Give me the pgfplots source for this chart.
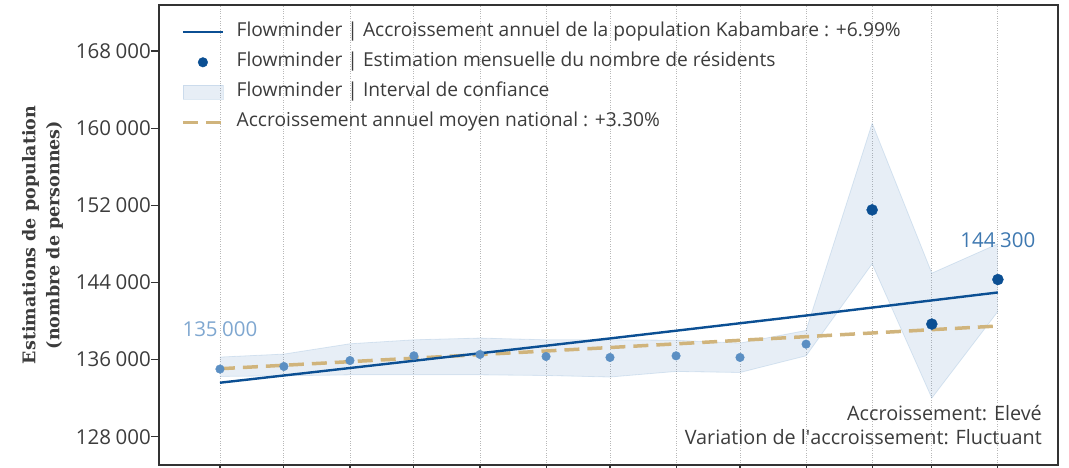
\documentclass[border=0pt]{standalone}
\usepackage{fontspec}
\setmainfont{Open Sans}
\newfontfamily\labelfont{DejaVu Serif}
\usepackage{pgfplots}
\usepackage{pgfplotstable}
\pgfplotsset{compat=1.18}
\usepgfplotslibrary{fillbetween}
\definecolor{darkblue}{HTML}{0B4F93}
\definecolor{lightpt}{HTML}{5B8FC3}
\definecolor{bandbase}{HTML}{5B8FC3}
\definecolor{tanc}{HTML}{D0B47C}
\definecolor{gridgray}{HTML}{B8B8B8}
\definecolor{axisgray}{HTML}{333333}
\definecolor{textgray}{HTML}{3C3C3C}
\definecolor{lbllight}{HTML}{7FA7D0}
\definecolor{lbldark}{HTML}{3E78B0}
\newcommand{\ts}{\hspace{0.22em}}
\newcommand{\fs}{\fontsize{19.2}{22}\selectfont}
\newcommand{\ft}{\fontsize{20.5}{22}\selectfont}
\newcommand{\fa}{\fontsize{19.8}{22}\selectfont}

\pgfplotstableread{
x y up lo
0 135016 136260 134250
30 135285 136570 134320
61 135900 137640 134420
91 136390 138050 134420
122 136530 138230 134420
153 136320 138050 134350
183 136220 138050 134190
214 136390 138000 134770
244 136220 137710 134660
275 137600 139020 136390
306 151520 160500 145930
334 139680 144960 132010
365 144300 148000 140990
}\band

\pgfplotstableread{
x y
0 135016
30 135285
61 135900
91 136390
122 136530
153 136320
183 136220
214 136390
244 136220
275 137600
}\lightpts

\pgfplotstableread{
x y
306 151520
334 139680
365 144300
}\darkpts

\pgfplotstableread{
x y
0 133600
91 135875
183 138192
275 140567
365 142960
}\trend

\pgfplotstableread{
x y
0 135050
183 137250
365 139480
}\national

\begin{document}
\begin{tikzpicture}
\begin{axis}[
  scale only axis, width=899pt, height=460pt,
  xmin=-28.6, xmax=393.2, ymin=125068, ymax=172766,
  xtick={0,30,61,91,122,153,183,214,244,275,306,334,365},
  xticklabels={},
  xmajorgrids, grid style={dotted, gridgray, line width=0.9pt},
  ytick={128000,136000,144000,152000,160000,168000},
  yticklabels={128\ts000,136\ts000,144\ts000,152\ts000,160\ts000,168\ts000},
  xtick pos=bottom, ytick pos=left,
  tick align=outside, major tick length=8pt,
  tick style={axisgray, line width=1.1pt},
  axis line style={axisgray, line width=1.3pt},
  yticklabel style={font=\ft, text=textgray, inner sep=3pt, xshift=3pt},
  scaled y ticks=false,
  ylabel={Estimations de population\\(nombre de personnes)},
  every axis y label/.style={at={(axis description cs:-0.1295,0.5)}, rotate=90, anchor=center, align=center, font=\labelfont\bfseries\fontsize{17.5}{24}\selectfont, text=textgray},
  legend style={at={(axis description cs:0.0211,0.9685)}, anchor=north west, draw=none, fill=none,
    font=\fs, text=textgray, row sep=9.1pt,
    nodes={inner sep=2pt, text height=13pt, text depth=4pt},
    /tikz/every odd column/.append style={column sep=10pt}},
  legend cell align=left,
]
\addplot[name path=up, draw=bandbase, draw opacity=0.2, line width=0.8pt, forget plot] table[x=x,y=up]{\band};
\addplot[name path=lo, draw=bandbase, draw opacity=0.2, line width=0.8pt, forget plot] table[x=x,y=lo]{\band};
\addplot[fill=bandbase, fill opacity=0.15, draw=none, forget plot] fill between[of=up and lo];
\addplot[tanc, line width=3.5pt, dash pattern=on 15pt off 8pt, forget plot] table[x=x,y=y]{\national};
\addplot[darkblue, line width=2.4pt, forget plot] table[x=x,y=y]{\trend};
\addplot[only marks, mark=*, mark size=4.3pt, mark options={fill=lightpt, draw=lightpt}, forget plot] table[x=x,y=y]{\lightpts};
\addplot[only marks, mark=*, mark size=5.5pt, mark options={fill=darkblue, draw=darkblue}, forget plot] table[x=x,y=y]{\darkpts};

\addlegendimage{legend image code/.code={\draw[darkblue, line width=2.4pt] (0pt,0pt) -- (40pt,0pt);}}
\addlegendentry{Flowminder | Accroissement annuel de la population Kabambare : +6.99\%}
\addlegendimage{legend image code/.code={\fill[darkblue] (20pt,0pt) circle (4.8pt);}}
\addlegendentry{Flowminder | Estimation mensuelle du nombre de résidents}
\addlegendimage{legend image code/.code={\filldraw[fill=bandbase, fill opacity=0.15, draw=bandbase, draw opacity=0.2, line width=0.8pt] (0pt,-7pt) rectangle (40pt,7pt);}}
\addlegendentry{Flowminder | Interval de confiance}
\addlegendimage{legend image code/.code={\draw[tanc, line width=3.5pt, dash pattern=on 15pt off 8pt] (0pt,0pt) -- (40pt,0pt);}}
\addlegendentry{Accroissement annuel moyen national : +3.30\%}

\node[text=lbllight, font=\ft, anchor=center] at (axis cs:0,139190) {135\ts000};
\node[text=lbldark, font=\ft, anchor=center] at (axis cs:365,148409) {144\ts300};
\node[text=textgray, font=\fa, anchor=east, inner sep=0pt] at (axis description cs:0.9822,0.113) {Accroissement: Elevé};
\node[text=textgray, font=\fa, anchor=east, inner sep=0pt] at (axis description cs:0.9822,0.0609) {Variation de l\textquotesingle accroissement: Fluctuant};
\end{axis}
\pgfresetboundingbox
\path[use as bounding box] (-159pt,-2pt) rectangle (910pt,465pt);
\end{tikzpicture}
\end{document}
